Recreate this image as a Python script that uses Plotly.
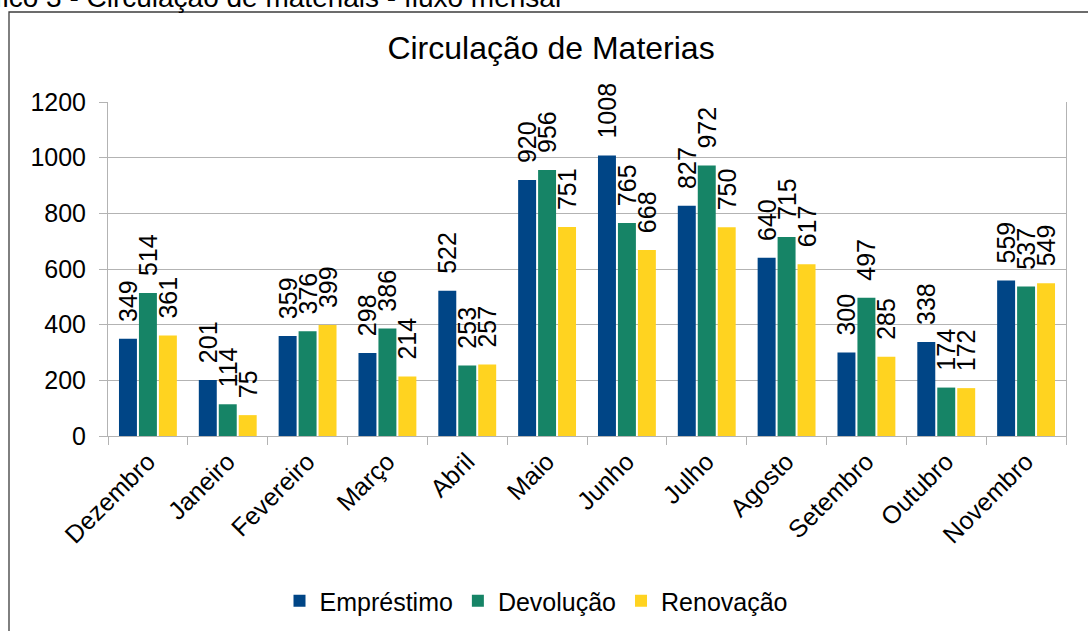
import plotly.graph_objects as go

meses = ['Dezembro', 'Janeiro', 'Fevereiro', 'Março', 'Abril', 'Maio',
         'Junho', 'Julho', 'Agosto', 'Setembro', 'Outubro', 'Novembro']
emprestimo = [349, 201, 359, 298, 522, 920, 1008, 827, 640, 300, 338, 559]
devolucao = [514, 114, 376, 386, 253, 956, 765, 972, 715, 497, 174, 537]
renovacao = [361, 75, 399, 214, 257, 751, 668, 750, 617, 285, 172, 549]

FONT = 'Liberation Sans, Arial, sans-serif'
W, H = 1088, 631
L, R, T, B = 108, 22, 102, 195
pw, ph = W - L - R, H - T - B


def px_x(x):
    return (x - L) / pw


def px_y(y):
    return (H - B - y) / ph


fig = go.Figure()
for nome, vals, cor in [('Empréstimo', emprestimo, '#004586'),
                        ('Devolução', devolucao, '#168466'),
                        ('Renovação', renovacao, '#ffd320')]:
    fig.add_trace(go.Bar(x=meses, y=vals, name=nome, marker_color=cor,
                         marker_line_width=0,
                         text=vals, texttemplate='\u00a0\u00a0%{text}',
                         textposition='outside', textangle=-90,
                         constraintext='none', cliponaxis=False,
                         outsidetextfont=dict(family=FONT, size=25, color='black')))

fig.update_layout(
    width=W, height=H, autosize=False,
    margin=dict(l=L, r=R, t=T, b=B, autoexpand=False),
    paper_bgcolor='white', plot_bgcolor='white',
    font=dict(family=FONT, size=25, color='black'),
    barmode='group', bargap=0.25, bargroupgap=0.1,
    title=dict(text='Circulação de Materias', x=px_x(551), xref='paper', xanchor='center',
               y=1 - 48 / H, yref='container', yanchor='middle',
               font=dict(family=FONT, size=32, color='black')),
    legend=dict(orientation='h', x=px_x(536), xanchor='center',
                y=px_y(601), yanchor='middle', font=dict(size=25),
                traceorder='normal'),
    showlegend=True,
)
fig.update_yaxes(range=[0, 1200], dtick=200, showgrid=True, gridcolor='#b3b3b3',
                 gridwidth=1, showline=True, linecolor='#b3b3b3', mirror=True,
                 ticks='outside', ticklen=8, tickcolor='#b3b3b3',
                 ticklabelstandoff=8, zeroline=False)
fig.update_xaxes(showline=True, linecolor='#b3b3b3', ticks='outside', ticklen=8,
                 tickcolor='#b3b3b3', tickson='boundaries', tickangle=-45,
                 showgrid=False, automargin=False)

# outer frame and cut-off caption above it
fig.add_shape(type='rect', xref='paper', yref='paper',
              x0=px_x(9), x1=px_x(1100), y0=px_y(645), y1=px_y(12),
              line=dict(color='#3c3c3c', width=1.3), fillcolor='rgba(0,0,0,0)',
              layer='below')
fig.add_annotation(text='Gráfico 3 - Circulação de materiais - fluxo mensal',
                   xref='paper', yref='paper', x=px_x(-54), y=px_y(-3),
                   xanchor='left', yanchor='middle', showarrow=False,
                   font=dict(family=FONT, size=28, color='black'))

fig.write_html('out.html', config={'displayModeBar': False},
               post_script="document.body.style.margin='0';")
